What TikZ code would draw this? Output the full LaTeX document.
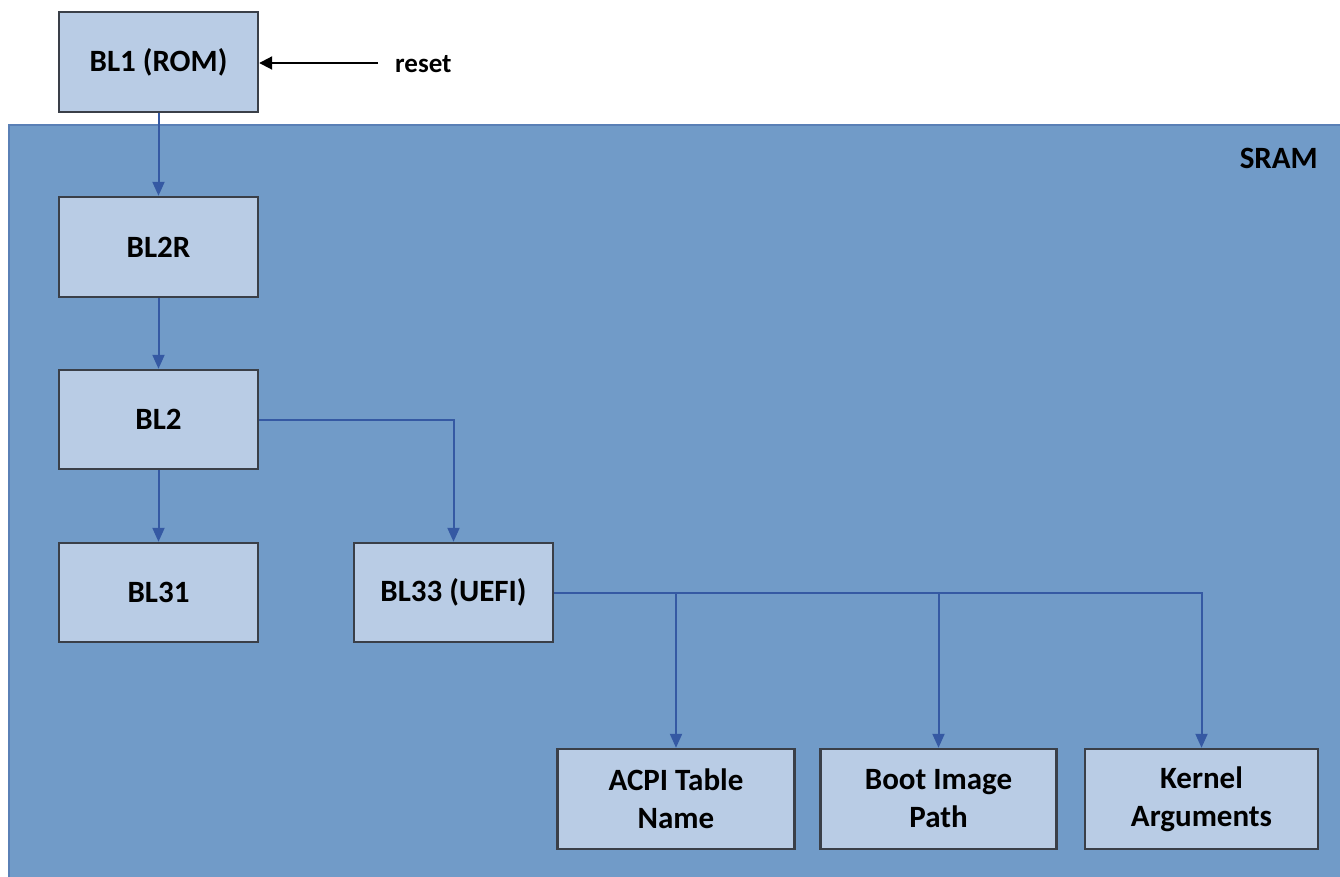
\documentclass[tikz,border=0pt]{standalone}
\usepackage{fontspec}
\setmainfont{Carlito}
\usetikzlibrary{arrows.meta}
\definecolor{sramfill}{HTML}{719BC8}
\definecolor{sramedge}{HTML}{5A80B6}
\definecolor{boxfill}{HTML}{B9CCE5}
\definecolor{boxedge}{HTML}{3A3F48}
\definecolor{linkblue}{HTML}{3559A3}
\tikzset{
  stagebox/.style={draw=boxedge, line width=2.4pt, fill=boxfill, inner sep=0pt,
    font=\fontsize{31}{38}\selectfont\bfseries, align=center},
  link/.style={draw=linkblue, line width=2pt, -{Triangle[width=12pt,length=14pt]}},
  resetlink/.style={draw=black, line width=2pt, -{Triangle[width=13pt,length=13pt]}},
}
\begin{document}
\begin{tikzpicture}[x=1pt,y=-1pt]
\useasboundingbox (0,0) rectangle (1340,877);
\fill[white] (0,0) rectangle (1340,877);
% SRAM region
\draw[draw=sramedge, line width=2pt, fill=sramfill] (9,125) rectangle (1345,885);
\node[anchor=east, font=\fontsize{31}{38}\selectfont\bfseries, inner sep=0pt] (sram) at (1318,158) {SRAM};
% boxes
\node[stagebox, minimum width=199pt, minimum height=100pt] (bl1) at (158.5,62) {BL1 (ROM)};
\node[stagebox, minimum width=199pt, minimum height=100pt] (bl2r) at (158.5,247) {BL2R};
\node[stagebox, minimum width=199pt, minimum height=99pt] (bl2) at (158.5,419.5) {BL2};
\node[stagebox, minimum width=199pt, minimum height=99pt] (bl31) at (158.5,592.5) {BL31};
\node[stagebox, minimum width=199pt, minimum height=99pt] (bl33) at (453.5,592.5) {BL33 (UEFI)};
\node[stagebox, minimum width=237pt, minimum height=100pt] (acpi) at (676,799) {ACPI Table\\Name};
\node[stagebox, minimum width=236pt, minimum height=100pt] (boot) at (938.5,799) {Boot Image\\Path};
\node[stagebox, minimum width=233pt, minimum height=100pt] (kern) at (1201.5,799) {Kernel\\Arguments};
% reset
\node[anchor=west, font=\fontsize{27}{32}\selectfont\bfseries, inner sep=0pt] (reset) at (395,64) {reset};
\coordinate (resetstart) at (378,63);
\draw[resetlink] (resetstart) -- (bl1.east |- resetstart);
% connectors
\draw[link] (bl1) -- (bl2r);
\draw[link] (bl2r) -- (bl2);
\draw[link] (bl2) -- (bl31);
\draw[link] (bl2.east) -| (bl33.north);
\draw[link] (bl33.east) -| (acpi.north);
\draw[link] (bl33.east) -| (boot.north);
\draw[link] (bl33.east) -| (kern.north);
\end{tikzpicture}
\end{document}
